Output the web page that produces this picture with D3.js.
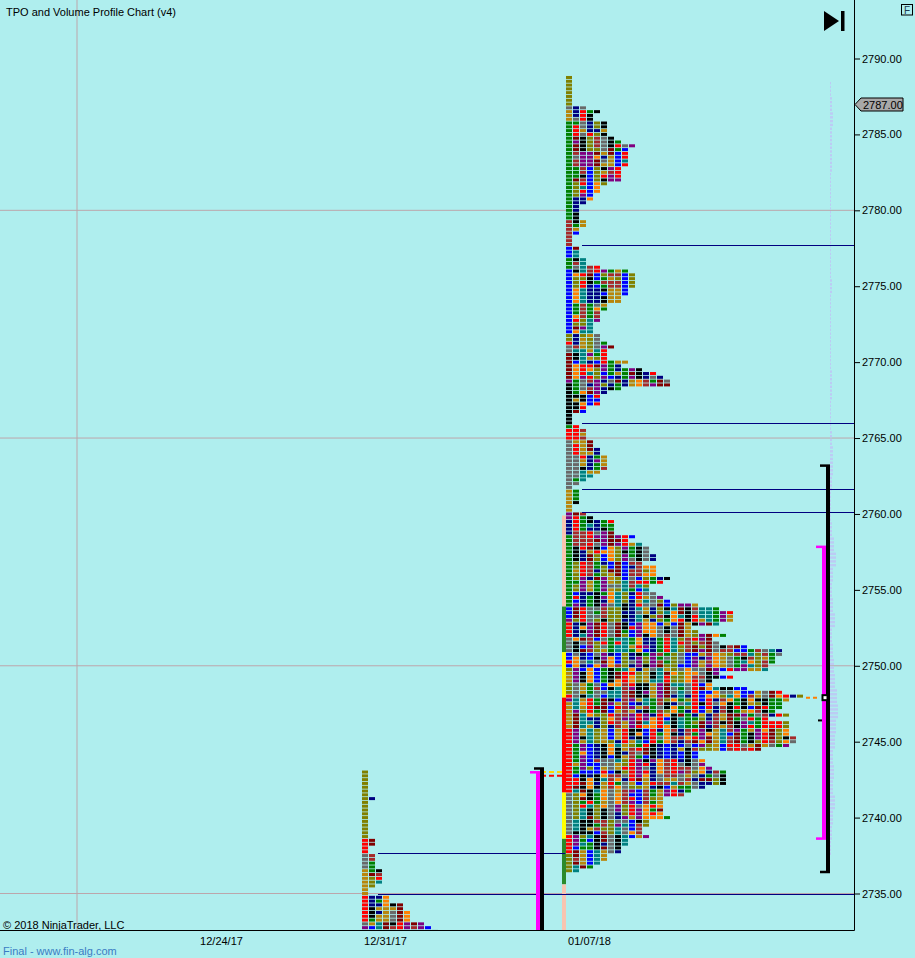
<!DOCTYPE html>
<html>
<head>
<meta charset="utf-8">
<script src="https://cdn.jsdelivr.net/npm/d3@7"></script>
<style>
  body { margin: 0; background: #afeeee; }
  text { font-family: 'Liberation Sans', Arial, sans-serif; }
</style>
</head>
<body>
<script>
// ---- data ----
const priceTicks = [2735, 2740, 2745, 2750, 2755, 2760, 2765, 2770, 2775, 2780, 2785, 2790];
const gridPrices = [2735, 2750, 2765, 2780];
const dateTicks = ['12/24/17', '12/31/17', '01/07/18'];
const gridDates = ['12/17/17'];
const lastPrice = 2787.00;

// TPO counts per 0.25 row, from the top price downwards
const tpo1231Top = 2743.0;
const tpo1231Counts = [1,1,1,1,1,1,1,2,1,1,1,1,1,1,1,1,1,1,2,2,1,1,2,2,2,2,3,3,3,3,2,1,1,4,4,6,6,7,7,7,9,10,11];

const tpo0107Top = 2788.75;
const tpo0107Counts = [
  1,1,1,1,1,1,1,1,3,5,4,4,6,6,6,6,7,8,10,9,9,9,9,9,8,8,8,8,6,5,5,4,4,3,2,2,2,2,3,3,2,2,1,1,
  1,2,2,2,3,3,5,9,10,10,10,10,9,9,8,8,6,6,5,5,5,4,4,4,5,5,6,7,6,6,6,9,8,11,13,14,15,15,8,6,5,5,5,3,3,1,1,1,2,3,3,
  3,4,4,5,5,6,6,6,6,5,4,3,2,1,2,2,2,
  2,1,1,3,4,7,7,7,7,10,9,11,12,12,13,13,11,13,13,13,15,14,12,12,13,14,15,19,22,24,24,24,22,18,19,23,21,22,26,31,31,30,30,29,29,22,24,21,21,26,
  31,34,32,31,31,30,32,29,32,32,32,32,33,33,32,28,19,19,20,20,21,23,23,23,23,20,18,17,14,14,14,14,14,15,12,12,11,11,12,9,9,8,8,6,6,5,4,2
];

// volume profile, one value per whole point
const volPrices = [2736,2737,2738,2739,2740,2741,2742,2743,2744,2745,2746,2747,2748,2749,2750,2751,2752,2753,2754,2755,2756,2757,2758,2759,2760,2761,2762,2763,2764,2765,2766,2767,2768,2769,2770,2771,2772,2773,2774,2775,2776,2777,2778,2779,2780,2781,2782,2783,2784,2785,2786,2787,2788,2789];
const volValues = [0,0,1,2,3,5,3,4,3,5,6,8,7,5,4,3,2,5,3,2,3,6,4,2,1,1,2,3,3,2,1,1,2,2,1,1,1,1,1,2,1,1,1,1,1,1,1,2,2,2,3,2,1,0];

// level lines (session, price, runs to)
const levelSession = ['01/07/18', '01/07/18', '01/07/18', '01/07/18', '12/31/17', '12/31/17'];
const levelPrice = [2777.7, 2766.0, 2761.65, 2760.15, 2737.7, 2734.95];
const levelEnd = ['axis', 'axis', 'axis', 'axis', '01/07/18', 'axis'];

// band strip of the 01/07 session
const bandHi = [2759.9, 2753.9, 2750.9, 2747.9, 2741.65, 2738.6, 2735.6];
const bandLo = [2753.9, 2750.9, 2747.9, 2741.65, 2738.6, 2735.6, 2730];
const bandKind = ['outer', 'mid', 'inner', 'core', 'inner', 'mid', 'outer'];

// range / value-area brackets
const bracketSession = ['12/31/17', '12/31/17', '01/07/18', '01/07/18'];
const bracketKind = ['range', 'va', 'range', 'va'];
const bracketHi = [2743.25, 2743.0, 2763.2, 2757.85];
const bracketLo = [2730, 2730, 2736.4, 2738.6];

const pocPrice = 2747.9;
const prevPocPrice = 2743.0;
const prevVaPrice = 2742.75;
const closeTick = 2746.4;

// ---- styles ----
const width = 915, height = 958;
const plotRight = 854, plotBottom = 930;
const pal = {
  olive: '#808000', gray: '#696969', goldenrod: '#b8860b', green: '#008000', brown: '#a52a2a',
  blue: '#0000ff', red: '#ff0000', maroon: '#800000', purple: '#800080', black: '#000000',
  teal: '#008080', navy: '#000080', orange: '#ff8000'
};
const cycle = ['black', 'teal', 'maroon', 'navy', 'orange', 'purple', 'goldenrod', 'gray', 'red', 'olive', 'blue', 'brown', 'green'];
const bandColor = { outer: '#f8c4b0', mid: '#2a8a2a', inner: '#ffff00', core: '#ff0000' };

// first column colour runs (style only)
const firstCol0107 = [['olive',8],['gray',1],['goldenrod',3],['green',26],['brown',7],['blue',3],['green',3],['blue',17],['olive',2],['red',1],['gray',2],['maroon',7],['purple',1],['black',11],['green',1],['red',3],['gray',13],['goldenrod',6],['purple',2],['navy',4],['green',19],[null,32],['red',17],['gray',11],['red',5],['olive',5]];
const firstCol1231 = [['olive',18],['red',4],['gray',4],['goldenrod',7],['red',7],['gray',1],['purple',1],['gray',1]];

function runAt(runs, row) {
  let i = 0;
  for (const [c, n] of runs) { if (row < i + n) return c; i += n; }
  return null;
}
function ih(a, b) {
  let h = (Math.imul(a, 374761393) + Math.imul(b, 668265263)) | 0;
  h = Math.imul(h ^ (h >>> 13), 1274126177);
  return (h ^ (h >>> 16)) >>> 0;
}
function blockColor(runs, row, col) {
  if (col === 0) { const c = runAt(runs, row); if (c) return pal[c]; }
  let idx = ih(Math.floor(row / 4) + col * 3, col) % 13;
  if (ih(row, col + 50) % 4 === 0) idx = ih(row, col + 99) % 13;
  return pal[cycle[idx]];
}

// ---- svg ----
const svg = d3.select('body').append('svg')
  .attr('width', width).attr('height', height);

svg.append('rect').attr('width', width).attr('height', height).attr('fill', '#afeeee');

svg.append('defs').append('clipPath').attr('id', 'plot')
  .append('rect').attr('x', 0).attr('y', 0).attr('width', plotRight).attr('height', plotBottom);

const parse = d3.timeParse('%m/%d/%y');
const x = d3.scaleTime()
  .domain(['12/17/17', '12/24/17', '12/31/17', '01/07/18'].map(parse))
  .range([77, 221, 385, 589]);
const y = d3.scaleLinear().domain([2735, 2790]).range([893.5, 58.5]);

const profileLeft = s => x(parse(s)) - 23;
const colScale = s => d3.scaleLinear().domain([0, 1]).range([profileLeft(s), profileLeft(s) + 7]);
const bracketX = { '12/31/17': 540, '01/07/18': 826 };

const plot = svg.append('g').attr('clip-path', 'url(#plot)');

// gridlines
plot.selectAll('.hgrid').data(gridPrices).enter().append('line')
  .attr('x1', 0).attr('x2', plotRight)
  .attr('y1', d => y(d)).attr('y2', d => y(d))
  .attr('stroke', '#bca6ab').attr('stroke-width', 1);
plot.selectAll('.vgrid').data(gridDates).enter().append('line')
  .attr('x1', d => x(parse(d))).attr('x2', d => x(parse(d)))
  .attr('y1', 0).attr('y2', plotBottom)
  .attr('stroke', '#bca6ab').attr('stroke-width', 1);

// volume profile
const volX = d3.scaleLinear().domain([0, 8]).range([830, 838]);
const volBars = [];
volPrices.forEach((p, i) => {
  if (volValues[i] > 0) [0.375, 0.125, -0.125, -0.375].forEach(o => volBars.push({ p: p + o, v: volValues[i] }));
});
plot.selectAll('.vol').data(volBars).enter().append('rect')
  .attr('x', volX(0))
  .attr('y', d => y(d.p) - 1.2)
  .attr('width', d => volX(d.v) - volX(0))
  .attr('height', 2.4)
  .attr('fill', '#bccbf4');

// TPO blocks
function drawProfile(session, top, counts, runs) {
  const cx = colScale(session);
  const blocks = [];
  counts.forEach((n, row) => {
    for (let col = 0; col < n; col++) {
      blocks.push({ price: top - row * 0.25, col, color: blockColor(runs, row, col) });
    }
  });
  plot.append('g').selectAll('rect').data(blocks).enter().append('rect')
    .attr('x', d => cx(d.col))
    .attr('y', d => y(d.price) - 1.5)
    .attr('width', 6)
    .attr('height', 3)
    .attr('fill', d => d.color);
}
drawProfile('12/31/17', tpo1231Top, tpo1231Counts, firstCol1231);
drawProfile('01/07/18', tpo0107Top, tpo0107Counts, firstCol0107);

// band strip
const stripX = profileLeft('01/07/18') - 4;
plot.selectAll('.band').data(bandKind).enter().append('rect')
  .attr('x', stripX)
  .attr('y', (d, i) => y(bandHi[i]))
  .attr('width', 4)
  .attr('height', (d, i) => y(bandLo[i]) - y(bandHi[i]))
  .attr('fill', d => bandColor[d]);

// level lines
plot.selectAll('.level').data(levelPrice).enter().append('line')
  .attr('x1', (d, i) => colScale(levelSession[i])(2) + 2)
  .attr('x2', (d, i) => levelEnd[i] === 'axis' ? plotRight : profileLeft(levelEnd[i]) - 1)
  .attr('y1', d => Math.round(y(d)) + 0.5)
  .attr('y2', d => Math.round(y(d)) + 0.5)
  .attr('stroke', '#000080').attr('stroke-width', 1);

// previous session POC / VA dashes
const dashX1 = bracketX['12/31/17'] + 1, dashX2 = stripX;
plot.append('line')
  .attr('x1', dashX1).attr('x2', dashX2)
  .attr('y1', y(prevPocPrice)).attr('y2', y(prevPocPrice))
  .attr('stroke', '#ffd700').attr('stroke-width', 2).attr('stroke-dasharray', '5,3');
plot.append('line')
  .attr('x1', dashX1).attr('x2', dashX2)
  .attr('y1', y(prevVaPrice)).attr('y2', y(prevVaPrice))
  .attr('stroke', '#ff0000').attr('stroke-width', 2).attr('stroke-dasharray', '5,3');

// POC dashes for 01/07
const pocRow = Math.round((tpo0107Top - 2748) / 0.25);
plot.append('line')
  .attr('x1', colScale('01/07/18')(tpo0107Counts[pocRow]) + 2)
  .attr('x2', bracketX['01/07/18'] - 8)
  .attr('y1', y(pocPrice)).attr('y2', y(pocPrice))
  .attr('stroke', '#ff8000').attr('stroke-width', 2).attr('stroke-dasharray', '4,3');

// brackets
const bracketStyle = {
  range: { color: '#000000', dx: 0, tick: 10 },
  va: { color: '#ff00ff', dx: -4, tick: 10 }
};
bracketKind.forEach((k, i) => {
  const st = bracketStyle[k];
  const bx = bracketX[bracketSession[i]] + st.dx;
  const g = plot.append('g').attr('fill', st.color);
  g.append('rect').attr('x', bx).attr('y', y(bracketHi[i]))
    .attr('width', 4).attr('height', y(bracketLo[i]) - y(bracketHi[i]));
  g.append('rect').attr('x', bx + 4 - st.tick).attr('y', y(bracketHi[i]) - 1)
    .attr('width', st.tick).attr('height', 2.5);
  g.append('rect').attr('x', bx + 4 - st.tick).attr('y', y(bracketLo[i]) - 1.5)
    .attr('width', st.tick).attr('height', 2.5);
});

// POC marker and close tick
const mx = bracketX['01/07/18'] - 4;
plot.append('rect').attr('x', mx + 0.5).attr('y', y(pocPrice) - 2.5)
  .attr('width', 5).attr('height', 5)
  .attr('fill', '#ffffff').attr('stroke', '#000').attr('stroke-width', 2);
plot.append('rect').attr('x', mx - 4).attr('y', y(closeTick) - 1)
  .attr('width', 4).attr('height', 2).attr('fill', '#000');

// axes
const yAxis = svg.append('g')
  .attr('transform', `translate(${plotRight},0)`)
  .call(d3.axisRight(y).tickValues(priceTicks).tickFormat(d3.format('.2f')).tickSize(6).tickPadding(2));
yAxis.select('.domain').remove();
yAxis.selectAll('text').style('font-size', '11px').attr('fill', '#000');
yAxis.selectAll('line').attr('stroke', '#000');

const xAxis = svg.append('g')
  .attr('transform', `translate(0,${plotBottom})`)
  .call(d3.axisBottom(x).tickValues(dateTicks.map(parse)).tickFormat(d3.timeFormat('%m/%d/%y')).tickSize(0).tickPadding(7));
xAxis.select('.domain').remove();
xAxis.selectAll('text').style('font-size', '11px').attr('fill', '#000');

svg.append('line').attr('x1', plotRight + 0.5).attr('x2', plotRight + 0.5)
  .attr('y1', 0).attr('y2', plotBottom + 0.5).attr('stroke', '#000');
svg.append('line').attr('x1', 0).attr('x2', plotRight + 0.5)
  .attr('y1', plotBottom + 0.5).attr('y2', plotBottom + 0.5).attr('stroke', '#000');

// last price marker
const ly = Math.round(y(lastPrice)) + 0.5;
svg.append('path')
  .attr('d', `M${plotRight + 1},${ly} L${plotRight + 7},${ly - 6.5} L903,${ly - 6.5} L903,${ly + 6.5} L${plotRight + 7},${ly + 6.5} Z`)
  .attr('fill', '#a8a8a8').attr('stroke', '#000').attr('stroke-width', 1);
svg.append('text').attr('x', plotRight + 9).attr('y', ly + 4)
  .style('font-size', '11px').attr('fill', '#000').text(d3.format('.2f')(lastPrice));

// titles and labels
svg.append('text').attr('x', 6).attr('y', 16).style('font-size', '11px').attr('fill', '#000')
  .text('TPO and Volume Profile Chart (v4)');
svg.append('text').attr('x', 3).attr('y', 929).style('font-size', '11px').attr('fill', '#000')
  .text('© 2018 NinjaTrader, LLC');
svg.append('text').attr('x', 3).attr('y', 955).style('font-size', '11px').attr('fill', '#3a7cc4')
  .text('Final - www.fin-alg.com');

// F box
svg.append('rect').attr('x', 901.5).attr('y', 4.5).attr('width', 11).attr('height', 10.5)
  .attr('fill', 'none').attr('stroke', '#000');
svg.append('text').attr('x', 907).attr('y', 13.5).attr('text-anchor', 'middle')
  .style('font-size', '10px').attr('fill', '#203a50').text('F');

// go-to-end icon
svg.append('path').attr('d', 'M824,11 L839,21 L824,31 Z').attr('fill', '#000');
svg.append('rect').attr('x', 841).attr('y', 11).attr('width', 3.5).attr('height', 20).attr('fill', '#000');
</script>
</body>
</html>
